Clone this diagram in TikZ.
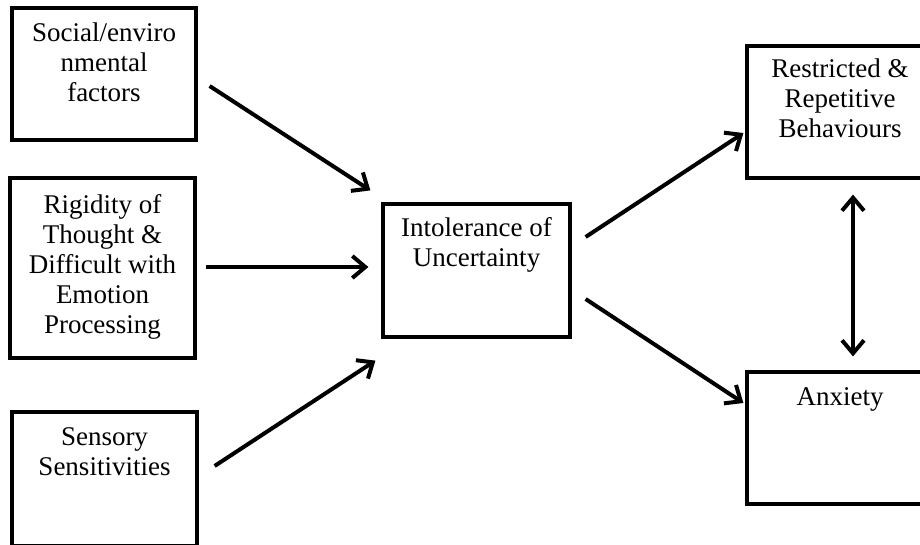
\documentclass[tikz,border=0pt]{standalone}
\usepackage{fontspec}
\setmainfont{Liberation Serif}
\usetikzlibrary{arrows.meta,calc}

% fixed height for the first line of every label, so labels hang from a known baseline
\newcommand{\toplead}{\rule{0pt}{22pt}}

\begin{document}
\begin{tikzpicture}[x=1pt,y=-1pt,
  box/.style={draw, line width=3.2pt, inner sep=0pt, rectangle},
  lbl/.style={font=\fontsize{27}{30}\selectfont, align=center, inner sep=0pt, anchor=north},
  barb/.tip={Straight Barb[length=13pt,width=22pt]},
  link/.style={line width=4pt, -barb},
  both/.style={line width=4pt, barb-barb}]
\useasboundingbox (0,0) rectangle (920,544);

% boxes
\node[box, minimum width=184pt, minimum height=132pt] (soc) at (104,74) {};
\node[box, minimum width=185pt, minimum height=180pt] (rig) at (102.5,268) {};
\node[box, minimum width=185pt, minimum height=134pt] (sen) at (104.5,479) {};
\node[box, minimum width=187pt, minimum height=133pt] (iu)  at (476.5,270.5) {};
\node[box, minimum width=186pt, minimum height=132pt] (rrb) at (840,112) {};
\node[box, minimum width=186pt, minimum height=132pt] (anx) at (840,438) {};

% labels: first baseline sits 22pt below the given point
\node[lbl] (socT) at ($(soc.north)+(0,13)$) {\toplead Social/enviro\\nmental\\factors};
\node[lbl] (rigT) at ($(rig.north)+(0,15)$) {\toplead Rigidity of\\Thought \&\\Difficult with\\Emotion\\Processing};
\node[lbl] (senT) at ($(sen.north)+(0,13)$) {\toplead Sensory\\Sensitivities};
\node[lbl] (iuT)  at ($(iu.north)+(0,12)$) {\toplead Intolerance of\\Uncertainty};
\node[lbl] (rrbT) at ($(rrb.north)+(0,11)$) {\toplead Restricted \&\\Repetitive\\Behaviours};
\node[lbl] (anxT) at ($(anx.north)+(0,13)$) {\toplead Anxiety};

% connector ends, set off from the boxes
\coordinate (a1s) at ($(soc.east)+(12,12)$);
\coordinate (a1e) at ($(iu.north west)+(-11,-12)$);
\coordinate (a2s) at ($(rig.east)+(9,-1)$);
\coordinate (a2e) at ($(iu.west)+(-13,-3.5)$);
\coordinate (a3s) at ($(sen.east)+(16,-13)$);
\coordinate (a3e) at ($(iu.south west)+(-6,22)$);
\coordinate (a4s) at ($(iu.east)+(14,-33.5)$);
\coordinate (a4e) at ($(rrb.west)+(-2,21)$);
\coordinate (a5s) at ($(iu.east)+(14,28.5)$);
\coordinate (a5e) at ($(anx.west)+(-2,-35)$);
\coordinate (d1) at ($(rrb.south)+(13,15)$);
\coordinate (d2) at ($(anx.north)+(13,-14)$);

% connectors
\draw[link] (a1s) -- (a1e);
\draw[link] (a2s) -- (a2e);
\draw[link] (a3s) -- (a3e);
\draw[link] (a4s) -- (a4e);
\draw[link] (a5s) -- (a5e);
\draw[both] (d1) -- (d2);
\end{tikzpicture}
\end{document}
